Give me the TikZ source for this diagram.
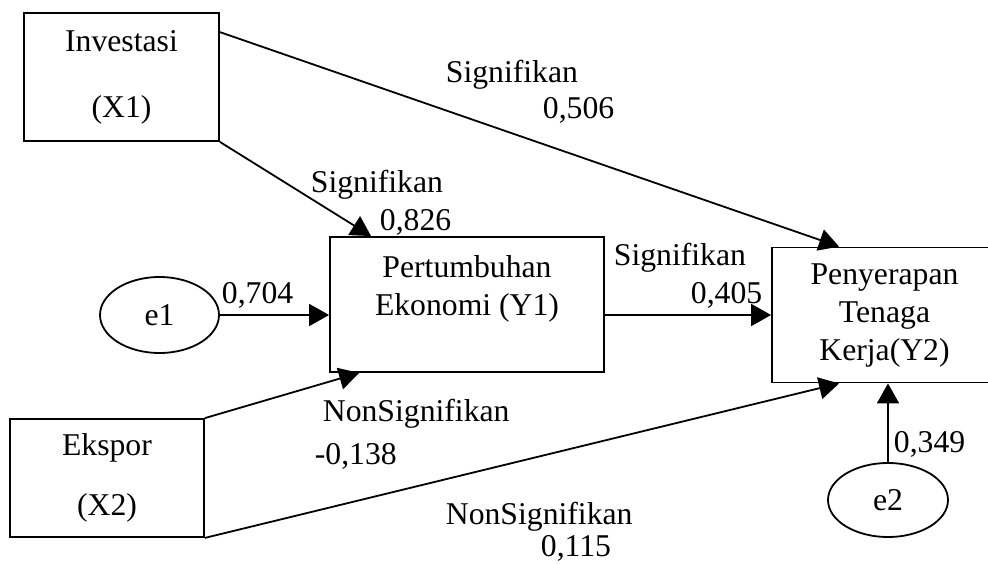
\documentclass[tikz,border=0pt]{standalone}
\usepackage{fontspec}
\setmainfont{Liberation Serif}
\usetikzlibrary{arrows.meta,shapes.geometric}

\begin{document}
\begin{tikzpicture}[x=1pt,y=-1pt,line width=1.8pt,
		every node/.style={font=\fontsize{31.7}{38}\selectfont,align=center},
		box/.style={draw,rectangle,inner sep=0pt},
		err/.style={draw,ellipse,inner sep=0pt},
		lbl/.style={anchor=base west,inner sep=0pt},
		arr/.style={-{Triangle[length=20pt,width=22pt]}}]
	\clip (0,0) rectangle (988,563);
	\node [box,minimum width=195pt,minimum height=128pt] (x1) at (121.5,77) {Investasi\\[28pt](X1)};
	\node [box,minimum width=194pt,minimum height=118pt] (x2) at (107,478) {Ekspor\\[22pt](X2)};
	\node [box,minimum width=274pt,minimum height=135pt] (y1) at (467,304.5) {Pertumbuhan\\Ekonomi (Y1)\\{}};
	\node [box,minimum width=225pt,minimum height=135pt] (y2) at (884.5,315) {Penyerapan\\Tenaga\\Kerja(Y2)};
	\node [err,minimum width=119pt,minimum height=76pt] (e1) at (159.5,315) {e1};
	\node [err,minimum width=120pt,minimum height=74pt] (e2) at (888,500) {e2};

	\draw [arr] ([yshift=-20pt]x1.north east) -- ([xshift=68pt]y2.north west);
	\draw [arr] (x1.south east) -- ([xshift=42pt]y1.north west);
	\draw [arr] (e1.east) -- (e1.east -| y1.west);
	\draw [arr] (y2.west -| y1.east) -- (y2.west);
	\draw [arr] (x2.north east) -- ([xshift=30pt]y1.south west);
	\draw [arr] (x2.south east) -- ([xshift=68pt]y2.south west);
	\draw [arr] (e2.north) -- (e2.north |- y2.south);

	\node [lbl] (s1) at (445,82) {Signifikan};
	\node [lbl] (v1) at (542,118) {0,506};
	\node [lbl] (s2) at (310,192) {Signifikan};
	\node [lbl] (v2) at (379,230) {0,826};
	\node [lbl] (v3) at (221,303) {0,704};
	\node [lbl] (s3) at (613,265) {Signifikan};
	\node [lbl] (v4) at (690,303) {0,405};
	\node [lbl] (n1) at (322,421) {NonSignifikan};
	\node [lbl] (v5) at (314,464) {-0,138};
	\node [lbl] (n2) at (445,524) {NonSignifikan};
	\node [lbl] (v6) at (540,556) {0,115};
	\node [lbl] (v7) at (893,452) {0,349};
\end{tikzpicture}
\end{document}
